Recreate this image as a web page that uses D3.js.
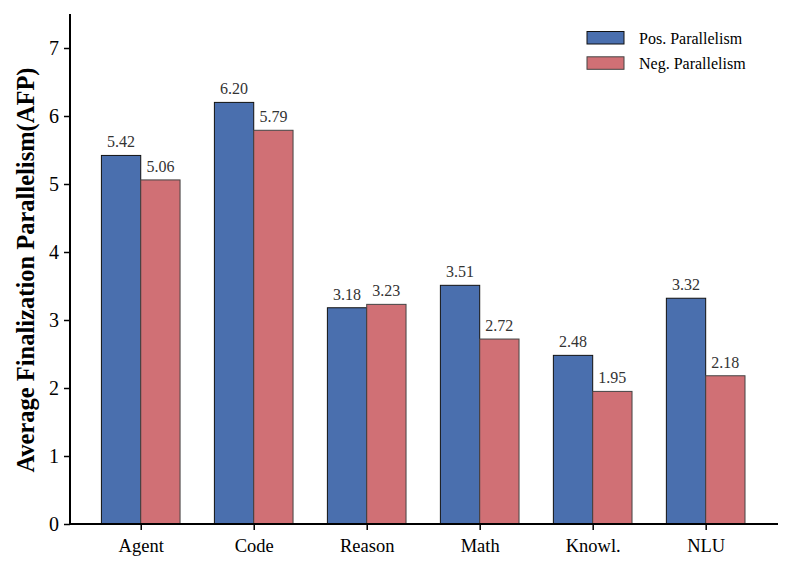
<!DOCTYPE html>
<html><head><meta charset="utf-8">
<script src="https://cdn.jsdelivr.net/npm/d3@7"></script>
<style>body{margin:0;background:#fff}svg{display:block}</style>
</head><body>
<svg id="c" width="792" height="572"></svg>
<script>
const categories = ["Agent","Code","Reason","Math","Knowl.","NLU"];
const posValues = [5.42,6.20,3.18,3.51,2.48,3.32];
const negValues = [5.06,5.79,3.23,2.72,1.95,2.18];
const seriesNames = ["Pos. Parallelism","Neg. Parallelism"];
const yTicks = [0,1,2,3,4,5,6,7];

(function(){
const colors = ["#4a6fae","#d07075"];
const edges = ["#111","#444"];
const FF = '"Liberation Serif","Times New Roman",serif';
const svg = d3.select("#c");
const mLeft = 70, mRight = 778, mTop = 14, mBottom = 524;

const x = d3.scaleLinear().domain([-0.626, 5.64]).range([mLeft, mRight]);
const y = d3.scaleLinear().domain([0, 7.5]).range([mBottom, mTop]);
const bw = 0.348;

const series = [posValues, negValues];
series.forEach((vals, s) => {
  const g = svg.append("g");
  g.selectAll("rect").data(vals).join("rect")
    .attr("x", (d,i) => x(i + (s===0 ? -bw : 0)))
    .attr("width", x(bw) - x(0))
    .attr("y", d => y(d))
    .attr("height", d => y(0) - y(d))
    .attr("fill", colors[s]).attr("stroke", edges[s]).attr("stroke-width", 1);
  g.selectAll("text").data(vals).join("text")
    .attr("x", (d,i) => x(i + (s===0 ? -bw/2 : bw/2)))
    .attr("y", d => y(d) - 8)
    .attr("text-anchor","middle")
    .style("font-family", FF).style("font-size","16px").attr("fill","#333")
    .text(d => d.toFixed(2));
});

const yAxis = d3.axisLeft(y).tickValues(yTicks).tickSize(6).tickPadding(5).tickFormat(d3.format("d"));
const ya = svg.append("g").attr("transform",`translate(${mLeft},0)`).call(yAxis);
ya.select(".domain").attr("stroke","#000").attr("stroke-width",2).attr("d",`M0,${mTop}V${mBottom}`);
ya.selectAll(".tick line").attr("stroke","#000").attr("stroke-width",1.5);
ya.selectAll(".tick text").style("font-family",FF).style("font-size","20px").attr("fill","#000");

const xAxis = d3.axisBottom(x).tickValues(d3.range(categories.length)).tickSize(6).tickPadding(9).tickFormat(i => categories[i]);
const xa = svg.append("g").attr("transform",`translate(0,${mBottom})`).call(xAxis);
xa.select(".domain").attr("stroke","#000").attr("stroke-width",2).attr("d",`M${mLeft},0H${mRight}`);
xa.selectAll(".tick line").attr("stroke","#000").attr("stroke-width",1.5);
xa.selectAll(".tick text").style("font-family",FF).style("font-size","18.5px").attr("fill","#000");

svg.append("text")
  .attr("transform",`translate(34,270) rotate(-90)`)
  .attr("text-anchor","middle")
  .style("font-family",FF).style("font-size","24.5px").style("font-weight","bold")
  .text("Average Finalization Parallelism(AFP)");

seriesNames.forEach((n, s) => {
  const ly = 31.5 + s*25.3;
  svg.append("rect").attr("x",587).attr("y",ly).attr("width",37).attr("height",12.5)
    .attr("fill",colors[s]).attr("stroke",edges[s]).attr("stroke-width",1);
  svg.append("text").attr("x",639).attr("y",ly+12.5).style("font-family",FF).style("font-size","16px")
    .attr("fill","#000").text(n);
});
})();
</script>
</body></html>
